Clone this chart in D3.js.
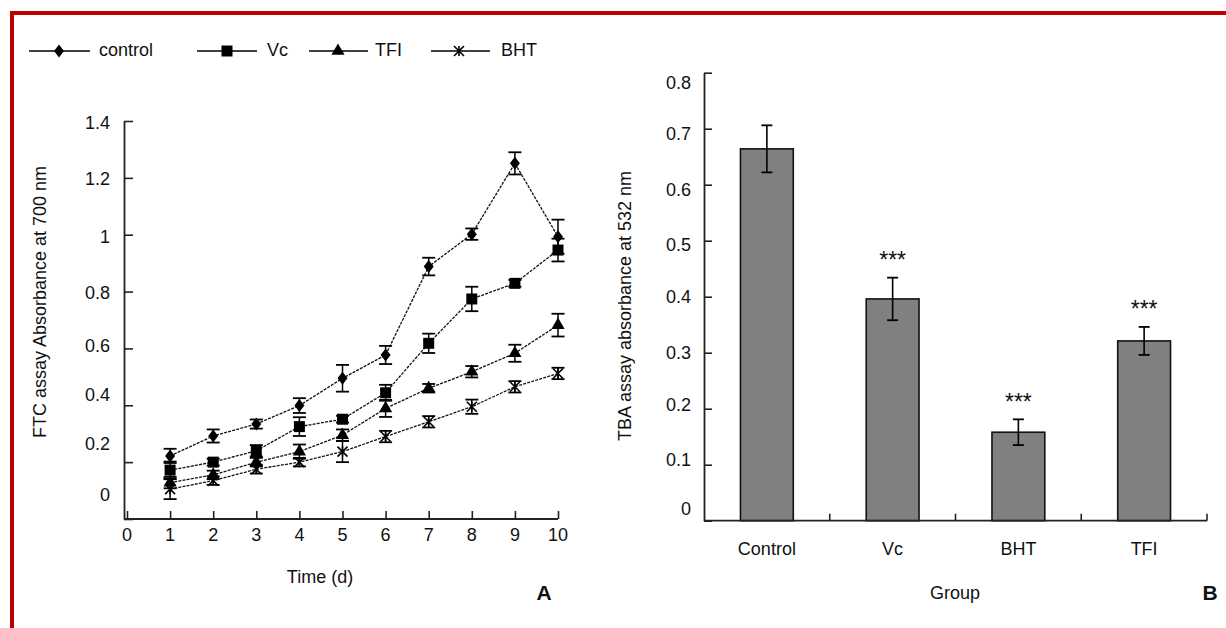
<!DOCTYPE html>
<html>
<head>
<meta charset="utf-8">
<script src="https://cdn.jsdelivr.net/npm/d3@7"></script>
<style>
  html, body { margin: 0; padding: 0; background: #fff; }
  svg { display: block; font-family: "Liberation Sans", Arial, sans-serif; }
  text { fill: #111; }
</style>
</head>
<body>
<svg id="chart" width="1226" height="628"></svg>
<script>
// ---------- Panel A data (FTC assay) ----------
const days = [1, 2, 3, 4, 5, 6, 7, 8, 9, 10];
const controlValues = [0.222, 0.292, 0.334, 0.399, 0.495, 0.577, 0.888, 1.002, 1.251, 0.993];
const controlErrors = [0.025, 0.023, 0.016, 0.026, 0.047, 0.032, 0.031, 0.020, 0.039, 0.060];
const vcValues = [0.172, 0.200, 0.240, 0.325, 0.351, 0.444, 0.618, 0.774, 0.829, 0.946];
const vcErrors = [0.030, 0.012, 0.020, 0.033, 0.012, 0.028, 0.034, 0.043, 0.012, 0.040];
const tfiValues = [0.128, 0.155, 0.200, 0.237, 0.295, 0.389, 0.460, 0.518, 0.583, 0.682];
const tfiErrors = [0.020, 0.015, 0.015, 0.025, 0.020, 0.030, 0.015, 0.020, 0.030, 0.040];
const bhtValues = [0.105, 0.135, 0.175, 0.200, 0.237, 0.290, 0.342, 0.395, 0.465, 0.512];
const bhtErrors = [0.035, 0.015, 0.015, 0.015, 0.037, 0.020, 0.020, 0.025, 0.020, 0.020];
const seriesNames = ["control", "Vc", "TFI", "BHT"];
const xTicksA = [0, 1, 2, 3, 4, 5, 6, 7, 8, 9, 10];
const yTicksA = [0, 0.2, 0.4, 0.6, 0.8, 1, 1.2, 1.4];

// ---------- Panel B data (TBA assay) ----------
const groups = ["Control", "Vc", "BHT", "TFI"];
const groupValues = [0.664, 0.396, 0.158, 0.321];
const groupErrors = [0.042, 0.038, 0.023, 0.025];
const groupSignif = ["", "***", "***", "***"];
const yTicksB = [0, 0.1, 0.2, 0.3, 0.4, 0.5, 0.6, 0.7, 0.8];

const svg = d3.select("#chart");
const FONT = 18;

// red frame
svg.append("rect").attr("x", 10).attr("y", 11).attr("width", 1216).attr("height", 4).attr("fill", "#c00000");
svg.append("rect").attr("x", 10).attr("y", 11).attr("width", 4).attr("height", 617).attr("fill", "#c00000");

// ---------- markers ----------
function markerPath(kind) {
  if (kind === "control") return "M0,-6.5L5,0L0,6.5L-5,0Z";
  if (kind === "Vc") return d3.symbol(d3.symbolSquare, 121)();
  if (kind === "TFI") return d3.symbol(d3.symbolTriangle, 75)();
  // BHT: asterisk-like star
  const r = 5;
  return `M${-r},${-r}L${r},${r}M${-r},${r}L${r},${-r}M0,${-r}L0,${r}`;
}
function drawMarker(g, kind, x, y) {
  const p = g.append("path").attr("d", markerPath(kind)).attr("transform", `translate(${x},${y})`);
  if (kind === "BHT") p.attr("fill", "none").attr("stroke", "#000").attr("stroke-width", 1.6);
  else p.attr("fill", "#000");
}

// ---------- Panel A ----------
const xA = d3.scaleLinear().domain([0, 10]).range([127, 558]);
const yA = d3.scaleLinear().domain([0, 1.4]).range([519, 121]);
const axisLeftX = 124;
const gA = svg.append("g");

// y axis
const yAxisA = gA.append("g").attr("transform", `translate(${axisLeftX},0)`)
  .call(d3.axisRight(yA).tickValues(yTicksA).tickSize(9).tickSizeOuter(0).tickFormat(""));
yAxisA.select(".domain").attr("stroke", "#222").attr("stroke-width", 1.8);
yAxisA.selectAll(".tick line").attr("stroke", "#222").attr("stroke-width", 1.6);
// y tick labels (as in the figure, the lower labels sit slightly above their ticks)
const yLabelShiftA = {0: -24, 0.2: -18, 0.4: -11, 0.6: -3, 0.8: 1, 1: 2, 1.2: 1, 1.4: 2};
gA.append("g").selectAll("text").data(yTicksA).join("text")
  .attr("x", 110).attr("y", d => yA(d) + yLabelShiftA[d])
  .attr("dy", "0.35em").attr("text-anchor", "end").attr("font-size", FONT)
  .text(d => d3.format("~g")(d));

// x axis
const xAxisA = gA.append("g").attr("transform", `translate(0,${yA(0)})`)
  .call(d3.axisTop(xA).tickValues(xTicksA).tickSize(8).tickSizeOuter(0).tickFormat(""));
xAxisA.select(".domain").remove();
xAxisA.selectAll(".tick line").attr("stroke", "#222").attr("stroke-width", 1.6);
gA.append("line").attr("x1", axisLeftX).attr("x2", xA(10)).attr("y1", yA(0)).attr("y2", yA(0))
  .attr("stroke", "#222").attr("stroke-width", 1.8);
gA.append("g").selectAll("text").data(xTicksA).join("text")
  .attr("x", d => xA(d)).attr("y", 535).attr("dy", "0.35em")
  .attr("text-anchor", "middle").attr("font-size", FONT).text(d => d);

// titles
gA.append("text").attr("x", 320).attr("y", 577).attr("dy", "0.35em").attr("text-anchor", "middle")
  .attr("font-size", FONT).text("Time (d)");
gA.append("text").attr("transform", "translate(40,302) rotate(-90)").attr("dy", "0.35em")
  .attr("text-anchor", "middle").attr("font-size", FONT).text("FTC assay Absorbance at 700 nm");
gA.append("text").attr("x", 544).attr("y", 593).attr("dy", "0.35em").attr("text-anchor", "middle")
  .attr("font-size", 21).attr("font-weight", "bold").text("A");

// series
const seriesA = [
  {name: "control", values: controlValues, errors: controlErrors},
  {name: "Vc", values: vcValues, errors: vcErrors},
  {name: "TFI", values: tfiValues, errors: tfiErrors},
  {name: "BHT", values: bhtValues, errors: bhtErrors}
];
const line = d3.line().x(d => xA(d.day)).y(d => yA(d.v));
seriesA.forEach(s => {
  const pts = days.map((day, i) => ({day, v: s.values[i], e: s.errors[i]}));
  const g = gA.append("g");
  g.append("path").datum(pts).attr("d", line).attr("fill", "none")
    .attr("stroke", "#111").attr("stroke-width", 1.3).attr("stroke-dasharray", "3,1.2");
  pts.forEach(p => {
    const x = xA(p.day), y1 = yA(p.v + p.e), y2 = yA(p.v - p.e);
    g.append("line").attr("x1", x).attr("x2", x).attr("y1", y1).attr("y2", y2).attr("stroke", "#000").attr("stroke-width", 1.5);
    [y1, y2].forEach(yy => g.append("line").attr("x1", x - 6.5).attr("x2", x + 6.5).attr("y1", yy).attr("y2", yy)
      .attr("stroke", "#000").attr("stroke-width", 1.8));
    drawMarker(g, s.name, x, yA(p.v));
  });
});

// legend
const legendX = {control: [29, 90, 59, 99], Vc: [197, 257, 227, 267], TFI: [309, 368, 338, 375], BHT: [431, 490, 459, 501]};
const legY = 51;
seriesNames.forEach(n => {
  const [a, b, m, t] = legendX[n];
  svg.append("line").attr("x1", a).attr("x2", b).attr("y1", legY).attr("y2", legY).attr("stroke", "#000").attr("stroke-width", 1.5);
  drawMarker(svg, n, m, legY);
  svg.append("text").attr("x", t).attr("y", legY).attr("dy", "0.3em").attr("font-size", FONT).text(n);
});

// ---------- Panel B ----------
const xB = d3.scaleBand().domain(groups).range([704, 1207]).paddingInner(0.58).paddingOuter(0.29);
const yB = d3.scaleLinear().domain([0, 0.8]).range([520.7, 72.7]);
const gB = svg.append("g");

const yAxisB = gB.append("g").attr("transform", `translate(704,0)`)
  .call(d3.axisRight(yB).tickValues(yTicksB).tickSize(8).tickSizeOuter(0).tickFormat(""));
yAxisB.select(".domain").attr("stroke", "#222").attr("stroke-width", 1.8);
yAxisB.selectAll(".tick line").attr("stroke", "#222").attr("stroke-width", 1.6);
const yLabelShiftB = {0: -12, 0.1: -5, 0.2: -4, 0.3: 0, 0.4: 0, 0.5: 4, 0.6: 5, 0.7: 5, 0.8: 10};
gB.append("g").selectAll("text").data(yTicksB).join("text")
  .attr("x", 691).attr("y", d => yB(d) + yLabelShiftB[d]).attr("dy", "0.35em")
  .attr("text-anchor", "end").attr("font-size", FONT).text(d => d3.format("~g")(d));

// bars
groups.forEach((gname, i) => {
  const x = xB(gname), w = xB.bandwidth(), v = groupValues[i], e = groupErrors[i];
  gB.append("rect").attr("x", x).attr("y", yB(v)).attr("width", w).attr("height", yB(0) - yB(v))
    .attr("fill", "#808080").attr("stroke", "#111").attr("stroke-width", 1.6);
  const cx = x + w / 2, y1 = yB(v + e), y2 = yB(v - e);
  gB.append("line").attr("x1", cx).attr("x2", cx).attr("y1", y1).attr("y2", y2).attr("stroke", "#000").attr("stroke-width", 1.6);
  [y1, y2].forEach(yy => gB.append("line").attr("x1", cx - 5.5).attr("x2", cx + 5.5).attr("y1", yy).attr("y2", yy)
    .attr("stroke", "#000").attr("stroke-width", 1.8));
  if (groupSignif[i]) {
    gB.append("text").attr("x", cx).attr("y", y1 - 9.5).attr("text-anchor", "middle")
      .attr("font-size", 23).text(groupSignif[i]);
  }
  gB.append("text").attr("x", cx).attr("y", 549).attr("dy", "0.35em").attr("text-anchor", "middle")
    .attr("font-size", FONT).text(gname);
});

// x axis B
gB.append("line").attr("x1", 704).attr("x2", 1207).attr("y1", yB(0)).attr("y2", yB(0)).attr("stroke", "#222").attr("stroke-width", 1.8);
const boundaries = groups.map(g => xB(g) + xB.bandwidth() + xB.step() * xB.paddingInner() / 2);
gB.append("g").selectAll("line").data(boundaries).join("line")
  .attr("x1", d => d).attr("x2", d => d).attr("y1", yB(0)).attr("y2", yB(0) - 7)
  .attr("stroke", "#222").attr("stroke-width", 1.6);

gB.append("text").attr("x", 955).attr("y", 593).attr("dy", "0.35em").attr("text-anchor", "middle")
  .attr("font-size", FONT).text("Group");
gB.append("text").attr("transform", "translate(625,306) rotate(-90)").attr("dy", "0.35em")
  .attr("text-anchor", "middle").attr("font-size", FONT).text("TBA assay absorbance at 532 nm");
gB.append("text").attr("x", 1210).attr("y", 593).attr("dy", "0.35em").attr("text-anchor", "middle")
  .attr("font-size", 21).attr("font-weight", "bold").text("B");
</script>
</body>
</html>
